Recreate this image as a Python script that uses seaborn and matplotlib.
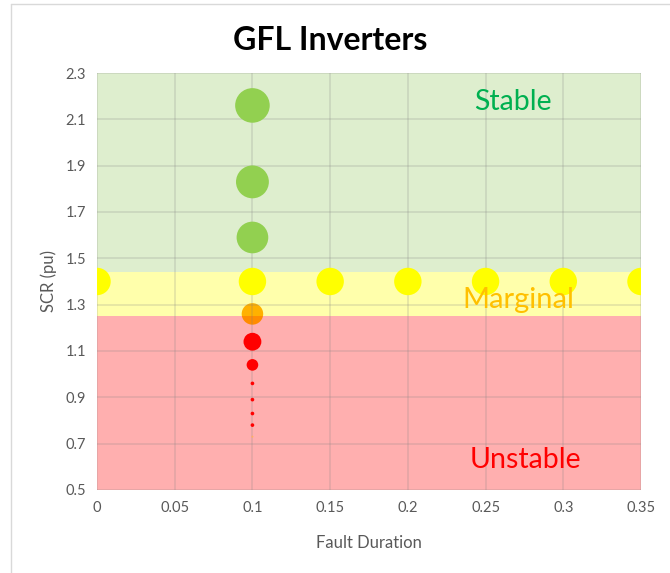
import matplotlib
matplotlib.use("Agg")
import matplotlib.pyplot as plt
import numpy as np
import pandas as pd
import seaborn as sns
from matplotlib.lines import Line2D

# data
fault_duration = [0.1, 0.1, 0.1,
                  0.0, 0.1, 0.15, 0.2, 0.25, 0.3, 0.35,
                  0.1,
                  0.1, 0.1, 0.1, 0.1, 0.1, 0.1,
                  0.1]
scr = [2.16, 1.83, 1.59,
       1.40, 1.40, 1.40, 1.40, 1.40, 1.40, 1.40,
       1.26,
       1.14, 1.04, 0.96, 0.89, 0.83, 0.78,
       0.73]
status = ["stable"] * 3 + ["marginal"] * 7 + ["edge"] + ["unstable"] * 6 + ["edge_small"]
bubble = [620, 560, 520,
          390, 390, 390, 390, 390, 390, 390,
          240,
          165, 70, 7, 7, 7, 7,
          2]

band_edges = [0.5, 1.25, 1.44, 2.3]
band_names = ["Unstable", "Marginal", "Stable"]

df = pd.DataFrame({"dur": fault_duration, "scr": scr, "status": status, "bubble": bubble})

sns.set_style("white")
plt.rcParams["font.family"] = ["Lato", "DejaVu Sans"]

fig = plt.figure(figsize=(6.7, 5.73), dpi=100)
ax = fig.add_axes([0.1448, 0.1449, 0.8119, 0.7277])

# background bands
ax.axhspan(band_edges[0], band_edges[1], color="#FFAFAF", zorder=0.2, lw=0)
ax.axhspan(band_edges[1], band_edges[2], color="#FFFF00", alpha=0.33, zorder=0.4, lw=0)
ax.axhspan(band_edges[2], band_edges[3], color="#DEEECE", zorder=0.2, lw=0)

palette = {"stable": "#92D050", "marginal": "#FFFF00", "edge": "#FF8C00",
           "unstable": "#FF0000", "edge_small": "#FFB060"}
zorders = {"stable": 3, "marginal": 3, "edge": 0.3, "unstable": 3, "edge_small": 3}

for st, grp in df.groupby("status", sort=False):
    sns.scatterplot(data=grp, x="dur", y="scr", size="bubble",
                    sizes=(0, 700), size_norm=(0, 700),
                    color=palette[st], edgecolor="none", linewidth=0,
                    legend=False, ax=ax, zorder=zorders[st])

ax.set_xlim(0, 0.35)
ax.set_ylim(0.5, 2.3)
ax.set_xticks(np.arange(0, 0.351, 0.05))
ax.set_xticklabels(["0", "0.05", "0.1", "0.15", "0.2", "0.25", "0.3", "0.35"])
ax.set_yticks(np.arange(0.5, 2.31, 0.2))
ax.set_yticklabels([f"{v:.1f}" for v in np.arange(0.5, 2.31, 0.2)])
ax.grid(True, color="#808080", alpha=0.22, lw=1.2, zorder=0.5)
ax.set_axisbelow(True)
for sp in ax.spines.values():
    sp.set_visible(False)
ax.tick_params(length=0, labelsize=10.5, labelcolor="#595959", pad=8)

ax.set_xlabel("Fault Duration", fontsize=12, color="#595959", labelpad=14)
ax.set_ylabel("SCR (pu)", fontsize=12, color="#595959", labelpad=6)

ax.text(0.2676, 2.175, band_names[2], color="#00B050", fontsize=20.5,
        ha="center", va="center", zorder=4)
ax.text(0.271, 1.32, band_names[1], color="#FFC000", fontsize=21,
        ha="center", va="center", zorder=4)
ax.text(0.2754, 0.63, band_names[0], color="#FF0000", fontsize=20.5,
        ha="center", va="center", zorder=4)

fig.text(0.4925, 0.930, "GFL Inverters", fontsize=23, fontweight="bold",
         ha="center", va="center", color="black")

# chart frame
fig.add_artist(Line2D([10.5 / 670, 10.5 / 670], [0, 1 - 4 / 573],
                      transform=fig.transFigure, color="#D9D9D9", lw=1))
fig.add_artist(Line2D([10.5 / 670, 1], [1 - 4 / 573, 1 - 4 / 573],
                      transform=fig.transFigure, color="#D9D9D9", lw=1))

fig.savefig("out.png", dpi=100)
